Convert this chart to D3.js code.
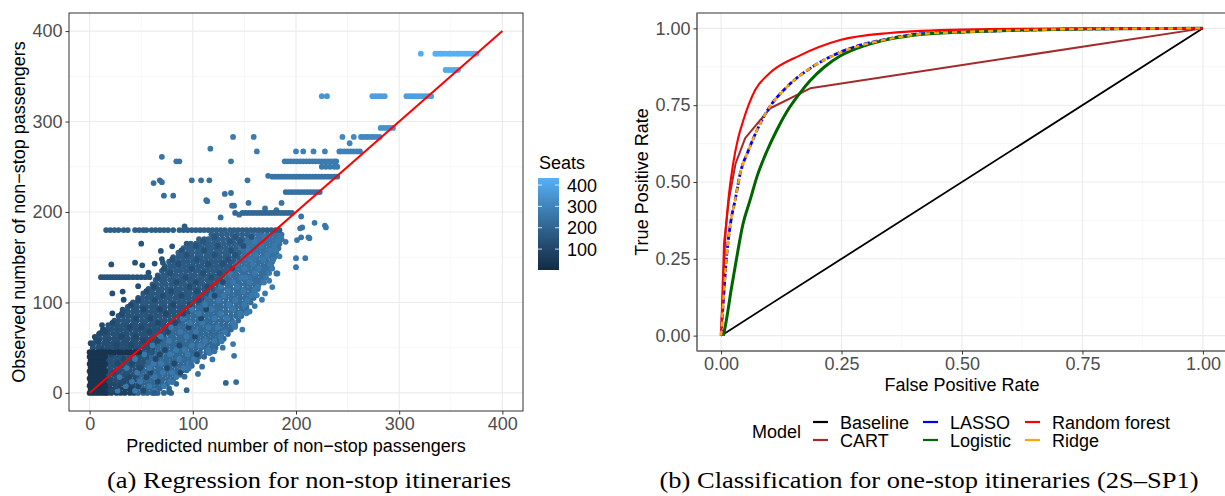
<!DOCTYPE html>
<html>
<head>
<meta charset="utf-8">
<script src="https://cdn.jsdelivr.net/npm/d3@7"></script>
<style>
  body { margin: 0; background: #fff; }
  text { font-family: "Liberation Sans", Arial, sans-serif; }
  .cap { font-family: "Liberation Serif", "Times New Roman", serif; }
</style>
</head>
<body>
<svg id="fig" width="1225" height="496"></svg>
<script>
////////////////////////////////////////////////////////////////////////
// Data

// (a) scatter: dense dark block, rows of the main cloud, outliers, streaks
// rows are [observed, seats, [predicted values...]]
let blockRows = [
  [0, 40, [0, 3, 6, 9, 12, 15]], [4, 40, [1, 4, 7, 10, 13]],
  [8, 40, [0, 3, 6, 9, 12, 15]], [12, 40, [1, 4, 7, 10, 13]],
  [16, 40, [0, 3, 6, 9, 12, 15]], [20, 40, [1, 4, 7, 10, 13]],
  [24, 40, [0, 3, 6, 9, 12, 15]], [28, 40, [1, 4, 7, 10, 13]],
  [32, 40, [0, 3, 6, 9, 12, 15]], [36, 40, [1, 4, 7, 10, 13]],
  [40, 40, [0, 3, 6, 9, 12, 15]],
  [45, 35, [0, 4, 8, 12, 16, 20, 24, 28, 32, 36, 40, 44, 48]]
];

let cloudRows = [
  [0, 80, [17, 21, 26, 30, 34, 39, 43]], [0, 190, [47, 52, 56, 61, 66, 72, 79]],
  [5, 80, [16, 20, 25, 29, 34, 38, 42]], [5, 200, [46, 51, 55, 60, 64, 68, 77]],
  [10, 100, [15, 20, 24, 29, 33, 38, 42]], [10, 200, [47, 51, 56, 60, 65, 70, 75, 84]],
  [15, 120, [17, 21, 26, 30, 35, 39, 44]], [15, 210, [48, 53, 57, 62, 67, 71, 76, 81]],
  [20, 130, [15, 19, 24, 28, 33, 37, 42, 46]], [20, 210, [50, 55, 59, 64, 68, 73, 78, 83, 88]],
  [25, 140, [17, 21, 26, 30, 35, 39, 44, 48]], [25, 210, [52, 57, 61, 66, 70, 75, 80, 85, 90, 94]],
  [30, 140, [15, 20, 24, 29, 33, 38, 42, 47, 51]], [30, 210, [56, 60, 65, 69, 74, 78, 83, 88, 93, 99]],
  [35, 140, [17, 21, 26, 30, 35, 39, 44, 48, 53]], [35, 210, [57, 62, 66, 71, 75, 80, 84, 89, 94, 98, 104]],
  [40, 140, [15, 20, 24, 29, 33, 38, 42, 47, 51, 56]], [40, 210, [60, 65, 69, 74, 78, 83, 87, 92, 97, 101, 106, 111]],
  [45, 150, [52, 57, 61]], [45, 210, [66, 70, 75, 79, 84, 88, 93, 98, 102, 107, 113, 117]],
  [50, 130, [3, 8, 12, 17, 21, 26, 30, 35, 39, 44, 48, 53, 57, 62]], [50, 210, [66, 71, 75, 80, 84, 89, 93, 98, 103, 108, 113, 118, 122]],
  [55, 130, [4, 9, 14, 18, 23, 27, 32, 36, 41, 45, 50, 54, 59, 63]], [55, 210, [68, 72, 77, 81, 86, 90, 95, 99, 104, 109, 114, 119, 124]],
  [60, 130, [6, 10, 15, 19, 24, 28, 33, 37, 42, 46, 51, 55, 60, 64, 69]], [60, 210, [73, 78, 82, 87, 91, 96, 100, 105, 110, 115, 120, 125, 130]],
  [65, 140, [9, 14, 18, 23, 27, 32, 36, 41, 45, 50, 54, 59, 63, 68, 72]], [65, 210, [77, 81, 86, 90, 95, 99, 104, 108, 113, 118, 123, 128, 134]],
  [70, 140, [13, 17, 21, 26, 30, 35, 39, 44, 48, 53, 57, 62, 66, 71, 75]], [70, 215, [80, 84, 89, 93, 98, 102, 107, 111, 116, 120, 125, 130, 134, 137]],
  [75, 140, [18, 23, 27, 32, 36, 41, 45, 50, 54, 59, 63, 68, 72, 77, 81]], [75, 215, [86, 90, 95, 99, 104, 108, 113, 117, 122, 127, 132, 137, 141]],
  [80, 150, [24, 28, 33, 37, 42, 46, 51, 55, 60, 64, 69, 73, 78, 82, 87]], [80, 215, [91, 96, 100, 105, 109, 114, 118, 123, 128, 133, 138, 144]],
  [85, 150, [28, 32, 37, 41, 46, 50, 55, 59, 64, 68, 73, 77, 82, 86, 91]], [85, 220, [95, 100, 104, 109, 113, 118, 122, 127, 132, 137, 142, 147]],
  [90, 150, [33, 37, 42, 46, 51, 55, 60, 64, 69, 73, 78, 82, 87, 91, 96]], [90, 220, [100, 105, 109, 114, 118, 123, 127, 132, 137, 142, 147, 151]],
  [95, 150, [37, 42, 46, 51, 55, 60, 64, 69, 73, 78, 82, 87, 91, 96, 100]], [95, 220, [105, 109, 114, 118, 123, 127, 132, 137, 142, 147, 152]],
  [100, 160, [42, 46, 51, 55, 60, 64, 69, 73, 78, 82, 87, 91, 96, 100, 105]], [100, 220, [109, 114, 118, 123, 127, 132, 137, 142, 146, 151, 156]],
  [105, 160, [47, 51, 56, 60, 65, 69, 74, 78, 83, 87, 92, 96, 101, 105, 110]], [105, 220, [114, 118, 123, 127, 132, 137, 141, 146, 151, 155, 159]],
  [110, 160, [52, 57, 61, 66, 70, 75, 79, 84, 88, 93, 97, 102, 106, 111, 115]], [110, 225, [119, 124, 128, 133, 137, 142, 146, 151, 156, 160]],
  [115, 160, [57, 61, 66, 70, 75, 79, 84, 88, 93, 97, 102, 106, 111, 115, 120]], [115, 225, [124, 128, 133, 137, 142, 146, 151, 156, 160, 163]],
  [120, 165, [61, 65, 70, 74, 79, 83, 88, 92, 97, 101, 106, 110, 115, 119, 124]], [120, 225, [128, 133, 137, 142, 146, 151, 155, 160, 164]],
  [125, 165, [64, 69, 73, 78, 82, 87, 91, 96, 100, 105, 109, 114, 118, 123, 127]], [125, 225, [132, 136, 141, 145, 150, 154, 159, 163, 167]],
  [130, 165, [66, 71, 75, 80, 84, 89, 93, 98, 102, 107, 111, 116, 120, 125, 129]], [130, 225, [134, 139, 143, 148, 152, 157, 161, 166, 170]],
  [135, 170, [70, 75, 79, 84, 88, 93, 97, 102, 106, 111, 115, 120, 124, 129, 133]], [135, 230, [138, 142, 147, 151, 156, 160, 165, 169, 173]],
  [140, 170, [73, 78, 82, 87, 91, 96, 100, 105, 109, 114, 118, 123, 127, 132, 136]], [140, 230, [141, 145, 150, 154, 159, 163, 168, 172, 176]],
  [145, 170, [77, 82, 86, 91, 95, 100, 104, 109, 113, 118, 122, 127, 131, 136, 140]], [145, 230, [145, 149, 154, 158, 163, 167, 172, 177]],
  [150, 175, [81, 86, 90, 95, 99, 104, 108, 113, 117, 122, 126, 131, 135, 140, 144]], [150, 235, [149, 153, 158, 162, 167, 171, 176, 179]],
  [155, 180, [86, 90, 95, 99, 104, 108, 113, 117, 122, 126, 131, 135, 140, 145]], [155, 235, [150, 154, 159, 163, 168, 172, 177, 181]],
  [160, 180, [91, 96, 100, 105, 109, 114, 118, 123, 127, 132, 137, 142]], [160, 235, [147, 151, 156, 160, 165, 169, 174, 178, 183]],
  [165, 180, [98, 103, 107, 112, 116, 121, 125, 130, 135, 140, 145]], [165, 235, [150, 154, 159, 163, 168, 172, 177, 181, 184]],
  [170, 185, [106, 111, 115, 120, 124, 129, 134, 139, 144, 148]], [170, 240, [153, 157, 162, 166, 171, 175, 180, 184, 186]],
  [175, 185, [118, 123, 128, 133, 138, 143, 148, 153]], [175, 240, [158, 163, 167, 172, 177, 181, 186]]
];

// lighter and darker points scattered through the cloud, plus ragged edges
let mixRows = [
  [2.5, 260, [27, 44, 63]], [2.5, 110, [21, 52]],
  [7.5, 260, [35, 58, 72]], [7.5, 110, [26, 47]],
  [12.5, 260, [41, 49, 78]], [12.5, 110, [19, 33, 66]],
  [17.5, 260, [29, 63, 84]], [17.5, 110, [38, 55]],
  [22.5, 260, [46, 71, 80]], [22.5, 110, [23, 59, 88]],
  [27.5, 260, [36, 58, 91]], [27.5, 110, [49, 75]],
  [32.5, 260, [62, 69, 96]], [32.5, 110, [27, 41, 82]],
  [37.5, 260, [44, 87, 101]], [37.5, 110, [33, 64]],
  [42.5, 260, [53, 78, 95]], [42.5, 110, [21, 68, 104]],
  [47.5, 260, [84, 92, 115]], [47.5, 110, [12, 47, 73]],
  [52.5, 260, [61, 99, 107]], [52.5, 110, [26, 40, 87]],
  [57.5, 260, [77, 112, 121]], [57.5, 110, [8, 52, 66]],
  [62.5, 260, [69, 94, 127]], [62.5, 110, [31, 45, 102]],
  [67.5, 260, [88, 103, 131]], [67.5, 110, [15, 58, 76]],
  [72.5, 260, [79, 115, 124]], [72.5, 110, [39, 50, 96]],
  [77.5, 260, [97, 109, 139]], [77.5, 110, [22, 66, 83]],
  [82.5, 260, [90, 121, 133]], [82.5, 110, [45, 59, 108]],
  [87.5, 260, [106, 127, 146]], [87.5, 110, [31, 74, 91]],
  [92.5, 260, [99, 118, 139]], [92.5, 110, [52, 68, 113]],
  [97.5, 260, [112, 135, 150]], [97.5, 110, [40, 81, 97]],
  [102.5, 260, [125, 141, 153]], [102.5, 120, [47, 63, 106]],
  [107.5, 260, [118, 130, 157]], [107.5, 120, [71, 89, 121]],
  [112.5, 260, [134, 149, 160]], [112.5, 120, [55, 79, 104]],
  [117.5, 260, [127, 143, 163]], [117.5, 120, [62, 97, 114]],
  [122.5, 260, [139, 155, 168]], [122.5, 120, [84, 103, 129]],
  [127.5, 260, [147, 151, 171]], [127.5, 130, [66, 93, 118]],
  [132.5, 260, [136, 160, 174]], [132.5, 130, [78, 110, 126]],
  [137.5, 260, [150, 164, 177]], [137.5, 130, [72, 99, 138]],
  [142.5, 260, [143, 158, 175]], [142.5, 130, [86, 115, 129]],
  [147.5, 260, [156, 168, 178]], [147.5, 140, [80, 104, 134]],
  [152.5, 260, [161, 172]], [152.5, 140, [94, 121, 141]],
  [157.5, 260, [154, 175, 180]], [157.5, 140, [89, 111, 137]],
  [162.5, 260, [166, 179]], [162.5, 140, [103, 124, 149]],
  [167.5, 260, [160, 182]], [167.5, 150, [110, 136, 146]],
  [172.5, 260, [169, 185]], [172.5, 150, [121, 141, 157]],
  [55, 110, [1]], [75, 110, [12]], [88, 110, [22]], [103, 120, [33]], [118, 130, [47]],
  [133, 130, [57]], [148, 140, [70]], [162, 150, [80]],
  [12, 250, [80]], [27, 250, [96]], [44, 260, [116]], [57, 260, [128]], [73, 260, [141]],
  [88, 270, [152]], [108, 270, [162]], [122, 270, [169]]
];

// [predicted, observed, seats]
let outliers = [
  [21, 142, 140], [44, 144, 140], [51, 141, 140], [63, 143, 140], [71, 144, 150], [92, 184, 170],
  [50, 165, 150], [69, 157, 150], [94, 165, 160], [22, 110, 130], [32, 92, 130], [32, 112, 130],
  [5, 62, 110], [13, 70, 110], [10, 66, 110],
  [129, 50, 250], [139, 54, 260], [140, 41, 250], [119, 37, 250], [121, 46, 240], [109, 29, 230],
  [98, 33, 230], [132, 11, 200], [142, 12, 220], [105, 21, 240], [92, 18, 220], [94, 3, 200],
  [77, 1, 180], [63, 0, 170], [167, 103, 270], [160, 114, 260], [177, 117, 270], [182, 132, 270],
  [184, 151, 270], [174, 124, 270], [155, 90, 260], [148, 70, 260], [160, 96, 260], [170, 110, 270],
  [184, 177, 250], [218, 188, 260], [228, 185, 260], [204, 182, 250], [201, 169, 250], [212, 172, 260],
  [190, 167, 250], [200, 149, 260], [209, 149, 260], [200, 139, 260], [181, 132, 250], [205, 172, 250],
  [213, 171, 260], [229, 183, 260], [206, 183, 250], [131, 220, 240], [137, 221, 240], [113, 213, 240],
  [138, 207, 240], [154, 210, 240], [72, 218, 230], [81, 218, 230], [114, 212, 240], [140, 207, 240],
  [186, 210, 250], [127, 194, 230], [145, 197, 240], [205, 195, 250], [62, 232, 230], [68, 235, 230],
  [70, 233, 230], [99, 235, 240], [108, 235, 240], [116, 235, 240], [153, 235, 250], [117, 270, 260],
  [162, 267, 270], [139, 283, 270], [159, 283, 270], [84, 256, 250], [87, 256, 250], [137, 256, 260],
  [252, 276, 300], [225, 328, 350], [230, 328, 350], [321, 375, 420], [173, 240, 250], [70, 261, 250],
  [170, 204, 250], [181, 202, 250]
];

// [observed, seats, [predicted values...]]
let streaks = [
  [375, 430, [335, 337, 340, 342, 345, 348, 350, 353, 356, 358, 361, 364, 366, 369, 372, 375]],
  [357, 410, [345, 348, 351, 354, 357]],
  [328, 380, [274, 277, 280, 283, 286]],
  [328, 380, [307, 310, 313, 316, 319, 322, 325, 328, 331]],
  [293, 340, [282, 285, 288, 291, 294]],
  [283, 310, [245, 256, 263, 265, 268, 270, 273, 275, 278, 281]],
  [267, 290, [200, 207, 217, 228, 242, 244, 247, 250, 253, 256, 259, 262]],
  [256, 270, [189, 192, 195, 198, 201, 204, 207, 210, 213, 216, 219, 222, 225, 228, 231, 234, 237, 239]],
  [250, 270, [225, 229, 233, 237, 240]],
  [239, 250, [177, 180, 183, 186, 189, 192, 195, 198, 201, 204, 207, 210, 213, 216, 219, 222, 225, 228, 231, 234, 237, 240]],
  [222, 240, [190, 193, 196, 199, 202, 205, 208, 211, 214, 217, 220, 223]],
  [199, 210, [141, 148, 151, 154, 157, 160, 163, 166, 169, 172, 175, 178, 181, 184, 187, 190, 193, 196]],
  [180, 180, [16, 20, 24, 28, 33, 37, 44, 48, 52, 55, 60, 64, 68, 72, 76, 81, 87, 91, 95, 99, 103, 107,
              111, 115, 119, 123, 127, 131, 136, 140, 144, 148, 152, 156, 160, 164, 168, 172, 176, 180, 184]],
  [128, 150, [11, 14, 17, 20, 23, 26, 29, 32, 35, 38, 42, 46, 50, 54, 58]]
];

let seatsRange = [2, 433];
let seatsTicks = [100, 200, 300, 400];
let regTicks = [0, 100, 200, 300, 400];
let regMinor = [50, 150, 250, 350];

// (b) ROC curves, [fpr, tpr]
let rocBaseline = [[0, 0], [1, 1]];
let rocCart = [[0, 0], [0.006, 0.3], [0.016, 0.44], [0.03, 0.56], [0.05, 0.643], [0.102, 0.74], [0.185, 0.805], [1, 1]];
let rocLasso = [[0, 0], [0.005, 0.12], [0.011, 0.25], [0.02, 0.37], [0.029, 0.44], [0.04, 0.53], [0.056, 0.6],
  [0.075, 0.67], [0.095, 0.73], [0.137, 0.81], [0.185, 0.87], [0.247, 0.922], [0.35, 0.967], [0.413, 0.982],
  [0.5, 0.988], [0.6, 0.993], [0.75, 0.998], [1, 1]];
let rocLogistic = [[0.005, 0], [0.012, 0.06], [0.021, 0.15], [0.032, 0.25], [0.045, 0.36], [0.06, 0.44], [0.075, 0.52],
  [0.095, 0.6], [0.116, 0.67], [0.137, 0.73], [0.164, 0.79], [0.185, 0.83], [0.215, 0.875], [0.247, 0.91],
  [0.3, 0.945], [0.35, 0.965], [0.413, 0.98], [0.5, 0.988], [0.6, 0.993], [0.75, 0.998], [1, 1]];
let rocForest = [[0, 0], [0.004, 0.15], [0.008, 0.3], [0.015, 0.44], [0.025, 0.56], [0.035, 0.64], [0.046, 0.7],
  [0.071, 0.8], [0.1, 0.853], [0.164, 0.912], [0.247, 0.962], [0.35, 0.985], [0.5, 0.996], [0.75, 1], [1, 1]];
let rocRidge = [[0, 0], [0.005, 0.12], [0.011, 0.25], [0.02, 0.37], [0.029, 0.44], [0.04, 0.53], [0.056, 0.6],
  [0.075, 0.67], [0.095, 0.73], [0.137, 0.81], [0.185, 0.87], [0.247, 0.921], [0.35, 0.966], [0.413, 0.981],
  [0.5, 0.988], [0.6, 0.993], [0.75, 0.998], [1, 1]];

let modelNames = ["Baseline", "CART", "LASSO", "Logistic", "Random forest", "Ridge"];
let modelColors = ["#000000", "#A52A2A", "#0000FF", "#006400", "#FF0000", "#FFA500"];
let rateTicks = [0, 0.25, 0.5, 0.75, 1];
let rateMinor = [0.125, 0.375, 0.625, 0.875];

////////////////////////////////////////////////////////////////////////
// Helpers

let svg = d3.select("#fig");
let tickCol = "#4d4d4d";

function drawGrid(g, x, y, major, minor, x0, x1, y0, y1) {
  minor.forEach(function(v) {
    g.append("line").attr("x1", x(v)).attr("x2", x(v)).attr("y1", y0).attr("y2", y1)
      .attr("stroke", "#f2f2f2").attr("stroke-width", 0.6);
    g.append("line").attr("y1", y(v)).attr("y2", y(v)).attr("x1", x0).attr("x2", x1)
      .attr("stroke", "#f2f2f2").attr("stroke-width", 0.6);
  });
  major.forEach(function(v) {
    g.append("line").attr("x1", x(v)).attr("x2", x(v)).attr("y1", y0).attr("y2", y1)
      .attr("stroke", "#ebebeb").attr("stroke-width", 1.1);
    g.append("line").attr("y1", y(v)).attr("y2", y(v)).attr("x1", x0).attr("x2", x1)
      .attr("stroke", "#ebebeb").attr("stroke-width", 1.1);
  });
}

function styleAxis(g) {
  g.select(".domain").remove();
  g.selectAll(".tick line").attr("stroke", "#333333");
  g.selectAll(".tick text").attr("fill", tickCol).style("font-size", "18px")
    .style("font-family", "'Liberation Sans', Arial, sans-serif");
}

////////////////////////////////////////////////////////////////////////
// (a) Regression scatter

let xA = d3.scaleLinear().domain([-20, 420]).range([69, 523]);
let yA = d3.scaleLinear().domain([-20, 420]).range([411, 13]);
let seatColor = d3.scaleLinear().domain(seatsRange).range(["#132B43", "#56B1F7"])
  .interpolate(d3.interpolateLab);

let gA = svg.append("g");
drawGrid(gA, xA, yA, regTicks, regMinor, 69, 523, 13, 411);

svg.append("clipPath").attr("id", "clipA").append("rect")
  .attr("x", 69).attr("y", 13).attr("width", 454).attr("height", 398);
let ptsA = gA.append("g").attr("clip-path", "url(#clipA)");

function drawRows(rows) {
  rows.forEach(function(r) {
    ptsA.selectAll(null).data(r[2]).enter().append("circle")
      .attr("cx", function(d) { return xA(d); })
      .attr("cy", yA(r[0]))
      .attr("r", 2.9)
      .attr("fill", seatColor(r[1]));
  });
}
drawRows(cloudRows);
drawRows(mixRows);
drawRows(blockRows);
ptsA.selectAll(null).data(outliers).enter().append("circle")
  .attr("cx", function(d) { return xA(d[0]); })
  .attr("cy", function(d) { return yA(d[1]); })
  .attr("r", 2.9)
  .attr("fill", function(d) { return seatColor(d[2]); });
drawRows(streaks);

ptsA.append("line")
  .attr("x1", xA(0)).attr("y1", yA(0)).attr("x2", xA(400)).attr("y2", yA(400))
  .attr("stroke", "#FF0000").attr("stroke-width", 2);

gA.append("rect").attr("x", 69).attr("y", 13).attr("width", 454).attr("height", 398)
  .attr("fill", "none").attr("stroke", "#333333").attr("stroke-width", 1);

gA.append("g").attr("transform", "translate(0,411)")
  .call(d3.axisBottom(xA).tickValues(regTicks).tickSize(3.5).tickPadding(3))
  .call(styleAxis);
gA.append("g").attr("transform", "translate(69,0)")
  .call(d3.axisLeft(yA).tickValues(regTicks).tickSize(3.5).tickPadding(3))
  .call(styleAxis);

gA.append("text").attr("x", 296).attr("y", 452).attr("text-anchor", "middle")
  .style("font-size", "18px").text("Predicted number of non\u2212stop passengers");
gA.append("text").attr("transform", "translate(25,212) rotate(-90)").attr("text-anchor", "middle")
  .style("font-size", "18px").text("Observed number of non\u2212stop passengers");

// colour bar
let barY = d3.scaleLinear().domain(seatsRange).range([270, 178]);
let grad = svg.append("defs").append("linearGradient").attr("id", "seatGrad")
  .attr("x1", 0).attr("y1", 1).attr("x2", 0).attr("y2", 0);
[0, 0.25, 0.5, 0.75, 1].forEach(function(t) {
  grad.append("stop").attr("offset", t)
    .attr("stop-color", seatColor(seatsRange[0] + t * (seatsRange[1] - seatsRange[0])));
});
gA.append("text").attr("x", 539).attr("y", 169).style("font-size", "18px").text("Seats");
gA.append("rect").attr("x", 538).attr("y", 178).attr("width", 21).attr("height", 92)
  .attr("fill", "url(#seatGrad)");
seatsTicks.forEach(function(s) {
  gA.append("line").attr("x1", 538).attr("x2", 542).attr("y1", barY(s)).attr("y2", barY(s))
    .attr("stroke", "#ffffff").attr("stroke-width", 0.8);
  gA.append("line").attr("x1", 555).attr("x2", 559).attr("y1", barY(s)).attr("y2", barY(s))
    .attr("stroke", "#ffffff").attr("stroke-width", 0.8);
  gA.append("text").attr("x", 567).attr("y", barY(s) + 6.5).style("font-size", "18px").text(s);
});

svg.append("text").attr("class", "cap").attr("x", 309).attr("y", 488).attr("text-anchor", "middle")
  .attr("textLength", 404).attr("lengthAdjust", "spacingAndGlyphs")
  .style("font-size", "23px").text("(a) Regression for non-stop itineraries");

////////////////////////////////////////////////////////////////////////
// (b) ROC curves

let xB = d3.scaleLinear().domain([-0.05, 1.05]).range([697, 1227]);
let yB = d3.scaleLinear().domain([-0.05, 1.05]).range([351, 13]);

let gB = svg.append("g");
drawGrid(gB, xB, yB, rateTicks, rateMinor, 697, 1227, 13, 351);

svg.append("clipPath").attr("id", "clipB").append("rect")
  .attr("x", 697).attr("y", 13).attr("width", 530).attr("height", 338);
let linesB = gB.append("g").attr("clip-path", "url(#clipB)");

let smooth = d3.line().x(function(d) { return xB(d[0]); }).y(function(d) { return yB(d[1]); })
  .curve(d3.curveMonotoneX);
let straight = d3.line().x(function(d) { return xB(d[0]); }).y(function(d) { return yB(d[1]); });

let curves = [
  { data: rocBaseline, gen: straight, w: 1.8, dash: null },
  { data: rocCart, gen: straight, w: 2, dash: null },
  { data: rocLasso, gen: smooth, w: 2.8, dash: "6,2" },
  { data: rocLogistic, gen: smooth, w: 3, dash: null },
  { data: rocForest, gen: smooth, w: 2.1, dash: null },
  { data: rocRidge, gen: smooth, w: 2.4, dash: "5,4" }
];
curves.forEach(function(c, i) {
  linesB.append("path").attr("d", c.gen(c.data))
    .attr("fill", "none").attr("stroke", modelColors[i]).attr("stroke-width", c.w)
    .attr("stroke-dasharray", c.dash).attr("stroke-linejoin", "round");
});

gB.append("rect").attr("x", 697).attr("y", 13).attr("width", 530).attr("height", 338)
  .attr("fill", "none").attr("stroke", "#333333").attr("stroke-width", 1);
gB.append("line").attr("x1", 697).attr("x2", 1227).attr("y1", 351).attr("y2", 351)
  .attr("stroke", "#7f7f7f").attr("stroke-width", 1.6);
gB.append("line").attr("x1", 697).attr("x2", 697).attr("y1", 13).attr("y2", 351)
  .attr("stroke", "#7f7f7f").attr("stroke-width", 1.6);

gB.append("g").attr("transform", "translate(0,351)")
  .call(d3.axisBottom(xB).tickValues(rateTicks).tickFormat(d3.format(".2f")).tickSize(3.5).tickPadding(3))
  .call(styleAxis);
gB.append("g").attr("transform", "translate(697,0)")
  .call(d3.axisLeft(yB).tickValues(rateTicks).tickFormat(d3.format(".2f")).tickSize(3.5).tickPadding(3))
  .call(styleAxis);

gB.append("text").attr("x", 962).attr("y", 391).attr("text-anchor", "middle")
  .style("font-size", "18px").text("False Positive Rate");
gB.append("text").attr("transform", "translate(648,182) rotate(-90)").attr("text-anchor", "middle")
  .style("font-size", "18px").text("True Positive Rate");

// legend, filled column by column
let legX = [813, 923, 1025];
let legY = [422, 440];
gB.append("text").attr("x", 752).attr("y", 438).style("font-size", "18px").text("Model");
modelNames.forEach(function(name, i) {
  let cx = legX[Math.floor(i / 2)], cy = legY[i % 2];
  gB.append("line").attr("x1", cx).attr("x2", cx + 15).attr("y1", cy).attr("y2", cy)
    .attr("stroke", modelColors[i]).attr("stroke-width", 2.2);
  gB.append("text").attr("x", cx + 27).attr("y", cy + 7).style("font-size", "18px").text(name);
});

svg.append("text").attr("class", "cap").attr("x", 929).attr("y", 488).attr("text-anchor", "middle")
  .attr("textLength", 539).attr("lengthAdjust", "spacingAndGlyphs")
  .style("font-size", "23px").text("(b) Classification for one-stop itineraries (2S\u2013SP1)");
</script>
</body>
</html>
